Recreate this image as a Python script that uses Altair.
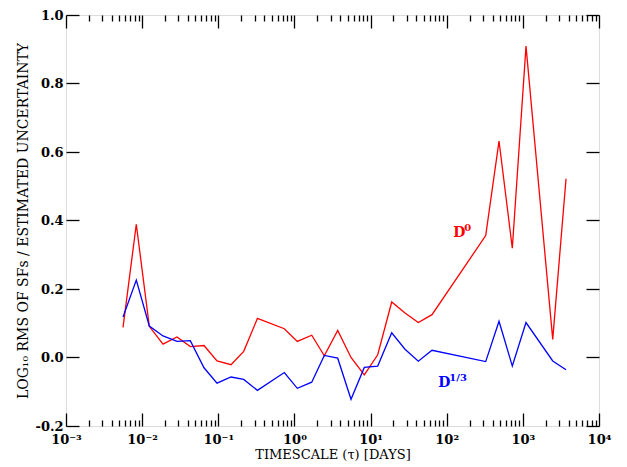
import altair as alt
import pandas as pd

# ---- data ----
tau = [0.00561, 0.00838, 0.01242, 0.01879, 0.0287, 0.0429, 0.06494, 0.09621,
       0.1469, 0.2158, 0.3265, 0.7364, 1.091, 1.687, 2.469, 3.702, 5.535,
       8.276, 12.41, 18.95, 28.33, 42.36, 64.1, 325.2, 486.3, 727.0, 1100.0,
       2467.0, 3690.0]
d0 = [0.088, 0.389, 0.091, 0.039, 0.060, 0.032, 0.035, -0.010, -0.021, 0.018,
      0.114, 0.084, 0.047, 0.065, 0.005, 0.079, 0.000, -0.051, 0.008, 0.162,
      0.130, 0.102, 0.125, 0.356, 0.632, 0.319, 0.909, 0.053, 0.522]
d13 = [0.118, 0.226, 0.092, 0.063, 0.047, 0.049, -0.030, -0.075, -0.057,
       -0.064, -0.096, -0.044, -0.090, -0.072, 0.006, -0.002, -0.122, -0.029,
       -0.025, 0.072, 0.024, -0.011, 0.021, -0.012, 0.106, -0.025, 0.102,
       -0.010, -0.036]

x_decades = [1e-3, 1e-2, 1e-1, 1e0, 1e1, 1e2, 1e3, 1e4]
x_minors = [k * 10.0 ** e for e in range(-3, 4) for k in range(2, 10)]
y_ticks = [-0.2, 0.0, 0.2, 0.4, 0.6, 0.8, 1.0]

lab_main = ["D", "D"]
lab_sup = ["0", "1/3"]
lab_x = [122.1, 77.6]
lab_y = [0.351, -0.0865]
lab_color = ["#ff0000", "#0000ff"]

FONT = "DejaVu Serif"

df = pd.DataFrame({"tau": tau + tau, "val": d0 + d13,
                   "series": ["D0"] * len(tau) + ["D13"] * len(tau)})
df_red = df[df.series == "D0"]
df_blue = df[df.series == "D13"]
labs = pd.DataFrame({"lx": lab_x, "ly": lab_y, "main": lab_main,
                     "sup": lab_sup, "c": lab_color})

xs = alt.Scale(type="log", domain=[1e-3, 1e4], nice=False)
ys = alt.Scale(domain=[-0.2, 1.0], nice=False, zero=False)

sup_expr = ("'10' + ['\u207b\u00b3','\u207b\u00b2','\u207b\u00b9','\u2070',"
            "'\u00b9','\u00b2','\u00b3','\u2074'][round(log(datum.value)/LN10)+3]")
y_expr = "replace(format(datum.value, '.1f'), '\u2212', '-')"

x_label_axis = alt.Axis(orient="bottom", values=x_decades, labelExpr=sup_expr,
                        ticks=False, domain=False, grid=False,
                        labelFont=FONT, labelFontSize=13, labelFontWeight="bold",
                        labelColor="black", labelPadding=7, labelFlush=False,
                        labelOverlap=False,
                        title="TIMESCALE (\u03c4) [DAYS]", titleFont=FONT,
                        titleFontSize=13, titleFontWeight="normal",
                        titleColor="black", titlePadding=2)
y_label_axis = alt.Axis(orient="left", values=y_ticks, labelExpr=y_expr,
                        ticks=False, domain=False, grid=False,
                        labelFont=FONT, labelFontSize=13, labelFontWeight="bold",
                        labelColor="black", labelPadding=3, labelFlush=False,
                        labelOverlap=False,
                        title="LOG\u2081\u2080 RMS OF SFs / ESTIMATED UNCERTAINTY",
                        titleFont=FONT, titleFontSize=14,
                        titleFontWeight="normal", titleColor="black",
                        titlePadding=4)


def tick_axis(orient, vals, size):
    return alt.Axis(orient=orient, values=vals, tickSize=size, offset=-size,
                    labels=False, domain=False, grid=False, title="",
                    tickColor="black", tickWidth=1.3)


red = alt.Chart(df_red).mark_line(color="#ff0000", strokeWidth=1.3).encode(
    x=alt.X("tau:Q", scale=xs, axis=x_label_axis),
    y=alt.Y("val:Q", scale=ys, axis=y_label_axis),
)
blue = alt.Chart(df_blue).mark_line(color="#0000ff", strokeWidth=1.3).encode(
    x=alt.X("tau:Q", scale=xs, axis=tick_axis("bottom", x_decades, 13)),
    y=alt.Y("val:Q", scale=ys, axis=tick_axis("left", y_ticks, 13)),
)
ax3 = alt.Chart(df_red).mark_point(opacity=0).encode(
    x=alt.X("tau:Q", scale=xs, axis=tick_axis("bottom", x_minors, 6)),
    y=alt.Y("val:Q", scale=ys, axis=tick_axis("right", y_ticks, 13)),
)
ax4 = alt.Chart(df_red).mark_point(opacity=0).encode(
    x=alt.X("tau:Q", scale=xs, axis=tick_axis("top", x_decades, 13)),
    y=alt.Y("val:Q", scale=ys, axis=None),
)
ax5 = alt.Chart(df_red).mark_point(opacity=0).encode(
    x=alt.X("tau:Q", scale=xs, axis=tick_axis("top", x_minors, 6)),
    y=alt.Y("val:Q", scale=ys, axis=None),
)

t_main = alt.Chart(labs).mark_text(font=FONT, fontSize=14, fontWeight="bold",
                                   align="left", baseline="alphabetic").encode(
    x=alt.X("lx:Q", scale=xs, axis=None),
    y=alt.Y("ly:Q", scale=ys, axis=None),
    text="main:N",
    color=alt.Color("c:N", scale=None),
)
t_sup = alt.Chart(labs).mark_text(font=FONT, fontSize=10, fontWeight="bold",
                                  align="left", baseline="alphabetic",
                                  dx=11, dy=-6).encode(
    x=alt.X("lx:Q", scale=xs, axis=None),
    y=alt.Y("ly:Q", scale=ys, axis=None),
    text="sup:N",
    color=alt.Color("c:N", scale=None),
)

chart = alt.layer(red, blue, ax3, ax4, ax5, t_main, t_sup).resolve_axis(
    x="independent", y="independent"
).properties(
    width=533, height=411, autosize="none",
    padding={"left": 58, "top": 7, "right": 20, "bottom": 40},
).configure_view(stroke="black", strokeWidth=1.6).configure(background="white")

chart.save("out.html", embed_options={"renderer": "svg", "actions": False})
